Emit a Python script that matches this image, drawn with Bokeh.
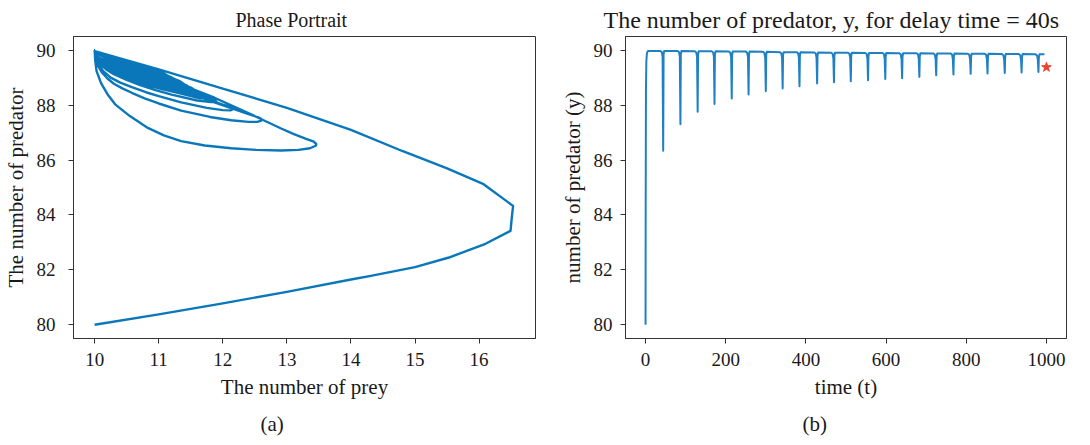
from bokeh.plotting import figure
from bokeh.layouts import row
from bokeh.models import FixedTicker, Range1d, Title
from bokeh.embed import file_html
from bokeh.resources import INLINE

# ---------------- data: phase portrait (prey x, predator y) ----------------
entry_x = [10.0, 11.0, 12.0, 13.0, 14.0, 14.31, 15.0, 15.53, 16.1, 16.49, 16.51, 16.53,
           16.07, 15.5, 14.8, 14.0, 13.0, 12.0, 11.0, 10.0]
entry_y = [80.0, 80.38, 80.78, 81.2, 81.65, 81.78, 82.1, 82.45, 82.95, 83.42, 83.9, 84.33,
           85.12, 85.7, 86.33, 87.1, 87.9, 88.6, 89.3, 89.97]

loop1_x = [10.0, 10.01, 10.03, 10.1, 10.2, 10.32, 10.55, 10.83, 11.08, 11.35, 11.72, 12.13,
           12.52, 12.91, 13.18, 13.36, 13.45, 13.46, 13.42, 13.3, 13.1, 12.91, 12.39, 11.87,
           11.35, 10.83, 10.32, 10.1, 10.0]
loop1_y = [89.97, 89.6, 89.24, 88.8, 88.4, 88.03, 87.6, 87.17, 86.9, 86.69, 86.53, 86.43,
           86.37, 86.35, 86.37, 86.43, 86.52, 86.58, 86.67, 86.77, 86.95, 87.15, 87.72, 88.27,
           88.75, 89.24, 89.72, 89.9, 89.97]
loop2_x = [10.0, 10.02, 10.05, 10.11, 10.2, 10.3, 10.44, 10.58, 10.78, 11.0, 11.35, 11.8,
           12.13, 12.4, 12.54, 12.6, 12.6, 12.55, 12.39, 11.87, 11.35, 10.83, 10.32, 10.1, 10.0]
loop2_y = [89.97, 89.7, 89.45, 89.2, 88.97, 88.78, 88.6, 88.45, 88.25, 88.06, 87.8, 87.57,
           87.45, 87.39, 87.39, 87.44, 87.5, 87.56, 87.68, 88.1, 88.55, 89.03, 89.55, 89.8, 89.97]
loop3_x = [10.0, 10.02, 10.06, 10.13, 10.25, 10.4, 10.58, 10.8, 11.0, 11.35, 11.75, 12.0,
           12.12, 12.16, 12.12, 12.0, 11.6, 11.1, 10.6, 10.2, 10.0]
loop3_y = [89.97, 89.72, 89.5, 89.25, 89.0, 88.82, 88.66, 88.47, 88.33, 88.1, 87.9, 87.82,
           87.81, 87.86, 87.93, 88.02, 88.35, 88.78, 89.25, 89.7, 89.97]
loop4_x = [10.0, 10.03, 10.08, 10.18, 10.3, 10.5, 10.7, 10.95, 11.2, 11.6, 11.82, 11.9,
           11.85, 11.75, 11.3, 10.8, 10.3, 10.0]
loop4_y = [89.97, 89.7, 89.5, 89.3, 89.13, 88.92, 88.74, 88.55, 88.38, 88.17, 88.11, 88.13,
           88.22, 88.3, 88.63, 89.07, 89.55, 89.97]

# later (smaller) loops: tip prey value of each cycle (lowest predator value = dip_min)
loop_tip_x = [11.75, 11.64, 11.56, 11.48, 11.42, 11.36, 11.32, 11.28, 11.25, 11.22,
              11.19, 11.15, 11.11, 11.08, 11.06, 11.05, 11.03, 11.01, 11.0]

# ---------------- data: predator vs time ----------------
dip_t = [44, 87, 130, 172, 215, 257, 300, 342, 384, 428, 470, 512, 555, 598, 640,
         683, 725, 768, 811, 853, 896, 938, 980]
dip_min = [86.34, 87.30, 87.76, 88.04, 88.24, 88.39, 88.51, 88.61, 88.69, 88.79, 88.83,
           88.87, 88.91, 88.95, 88.98, 89.03, 89.09, 89.12, 89.14, 89.15, 89.17, 89.19, 89.21]
plateau = [89.97, 89.97, 89.96, 89.96, 89.95, 89.95, 89.94, 89.93, 89.93, 89.92, 89.91,
           89.91, 89.90, 89.90, 89.89, 89.89, 89.88, 89.88, 89.87, 89.87, 89.86, 89.86, 89.85]
start_t = [0.0, 0.3, 1.0, 2.0, 3.5, 6.0]
start_y = [80.0, 84.0, 88.5, 89.6, 89.9, 89.97]
end_t = 995.0
end_y = 89.85
star_t = [1000.0]
star_y = [89.38]

x_ticks_a = [10, 11, 12, 13, 14, 15, 16]
y_ticks = [80, 82, 84, 86, 88, 90]
x_ticks_b = [0, 200, 400, 600, 800, 1000]

# ---------------- build curves ----------------
# normalised outline of a small cycle (shape read from the 5th loop)
tmpl_u = [0.0, 0.017, 0.057, 0.12, 0.2, 0.32, 0.457, 0.6, 0.743, 0.86, 0.93, 0.98, 1.0,
          0.97, 0.914, 0.629, 0.343, 0.114, 0.0]
tmpl_v = [0.0, 0.17, 0.284, 0.39, 0.483, 0.6, 0.71, 0.8, 0.881, 0.95, 0.99, 1.0, 0.97,
          0.92, 0.87, 0.64, 0.398, 0.159, 0.0]

phase_x = list(entry_x)
phase_y = list(entry_y)
for lx, ly in [(loop1_x, loop1_y), (loop2_x, loop2_y), (loop3_x, loop3_y), (loop4_x, loop4_y)]:
    phase_x += lx
    phase_y += ly
for tx, my in zip(loop_tip_x, dip_min[4:]):
    phase_x += [10.0 + u * (tx - 10.0) for u in tmpl_u]
    phase_y += [89.97 - v * (89.97 - my) for v in tmpl_v]

time_t = list(start_t)
time_y = list(start_y)
for tk, mk, pk in zip(dip_t, dip_min, plateau):
    time_t += [tk - 7, tk - 3.5, tk - 1.5, tk, tk + 1.0, tk + 2.5]
    time_y += [pk, pk - 0.04, pk - 0.2, mk, pk - 0.12, pk]
time_t.append(end_t)
time_y.append(end_y)

# ---------------- styling helpers ----------------
FONT = "Liberation Serif"
INK = "#1a1a1a"
FRAME = "#333333"


def style(p, xt, yt, ystand):
    p.xgrid.grid_line_color = None
    p.ygrid.grid_line_color = None
    p.outline_line_color = FRAME
    p.outline_line_width = 1
    p.background_fill_color = "white"
    p.border_fill_color = "white"
    p.xaxis.ticker = FixedTicker(ticks=xt)
    p.yaxis.ticker = FixedTicker(ticks=yt)
    for ax in (p.xaxis[0], p.yaxis[0]):
        ax.axis_line_color = FRAME
        ax.major_tick_line_color = FRAME
        ax.major_tick_in = 0
        ax.major_tick_out = 5
        ax.minor_tick_in = 0
        ax.minor_tick_out = 0
        ax.major_label_text_font = FONT
        ax.major_label_text_font_size = "19px"
        ax.major_label_text_color = INK
        ax.axis_label_text_font = FONT
        ax.axis_label_text_font_size = "21px"
        ax.axis_label_text_font_style = "normal"
        ax.axis_label_text_color = INK
    p.xaxis.major_label_standoff = 9
    p.xaxis.axis_label_standoff = 6
    p.yaxis.major_label_standoff = ystand
    p.yaxis.axis_label_standoff = 6
    p.title.text_font = FONT
    p.title.text_font_style = "normal"
    p.title.text_color = INK
    p.title.align = "left"


def caption(p, text, off):
    p.add_layout(Title(text=text, align="left", text_font=FONT, text_font_size="21px",
                       text_font_style="normal", text_color=INK, offset=off, standoff=17),
                 "below")


# ---------------- left: phase portrait ----------------
p1 = figure(width=545, height=445, output_backend="svg", toolbar_location=None,
            title="Phase Portrait",
            x_range=Range1d(9.67, 16.88), y_range=Range1d(79.5, 90.5),
            x_axis_label="The number of prey", y_axis_label="The number of predator",
            min_border_left=73, min_border_right=10, min_border_top=36, min_border_bottom=107)
style(p1, x_ticks_a, y_ticks, 13)
p1.title.text_font_size = "20px"
p1.title.standoff = 11
p1.title.offset = 162
p1.line(phase_x, phase_y, line_color="#0a77bb", line_width=2.4, line_join="round")
caption(p1, "(a)", 187)

# ---------------- right: predator vs time ----------------
p2 = figure(width=545, height=445, output_backend="svg", toolbar_location=None,
            title="The number of predator, y, for delay time = 40s",
            x_range=Range1d(-50, 1050), y_range=Range1d(79.5, 90.5),
            x_axis_label="time (t)", y_axis_label="number of predator (y)",
            min_border_left=80, min_border_right=24, min_border_top=36, min_border_bottom=107)
style(p2, x_ticks_b, y_ticks, 8)
p2.title.text_font_size = "24px"
p2.title.standoff = 7
p2.title.offset = -22
p2.line(time_t, time_y, line_color="#1f80c4", line_width=2.0, line_join="round")
p2.scatter(star_t, star_y, marker="star", size=10, fill_color="#e8412c",
           line_color="#e8412c")
caption(p2, "(b)", 177)

layout = row(p1, p2)
open("out.html", "w").write(file_html(layout, INLINE))
